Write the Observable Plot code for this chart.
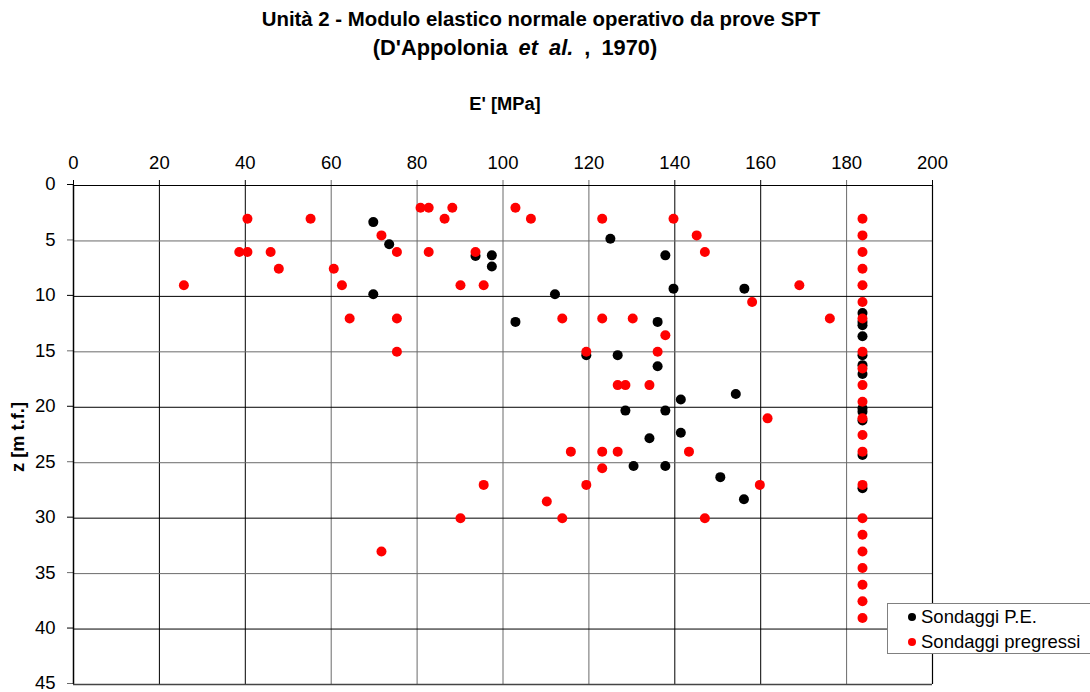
<!DOCTYPE html>
<html>
<head>
<meta charset="utf-8">
<script src="https://cdn.jsdelivr.net/npm/d3@7"></script>
<script src="https://cdn.jsdelivr.net/npm/@observablehq/plot@0.6"></script>
<style>
  html, body { margin: 0; padding: 0; background: #fff; }
  #wrap { position: relative; width: 1090px; height: 692px; font-family: "Liberation Sans", Arial, sans-serif; color: #000; }
  .t { position: absolute; text-align: center; font-weight: bold; white-space: nowrap; }
  #legend { position: absolute; left: 887px; top: 603px; width: 210px; height: 51px; border: 1px solid #808080; background: #fff; box-sizing: border-box; font-size: 18.5px; }
  .li { position: absolute; left: 0; display: flex; align-items: center; }
  .dot { display: inline-block; width: 8px; height: 8px; border-radius: 50%; margin-left: 20px; margin-right: 5px; }
</style>
</head>
<body>
<div id="wrap">
  <div id="chart"></div>
  <div class="t" style="left:241px;width:600px;top:8px;font-size:20.4px;">Unità 2 - Modulo elastico normale operativo da prove SPT</div>
  <div class="t" style="left:215px;width:600px;top:35px;font-size:21.8px;word-spacing:5px;">(D'Appolonia <i>et al.</i> , 1970)</div>
  <div class="t" style="left:405px;width:200px;top:93px;font-size:18.3px;">E' [MPa]</div>
  <div class="t" style="left:-82px;width:200px;top:426px;font-size:18.3px;transform:rotate(-90deg);">z [m t.f.]</div>
  <div id="legend">
    <div class="li" style="top:2px;"><span class="dot" style="background:#000"></span><span>Sondaggi P.E.</span></div>
    <div class="li" style="top:27px;"><span class="dot" style="background:#ff0000"></span><span>Sondaggi pregressi</span></div>
  </div>
</div>
<script>
// Sondaggi P.E. (black)
const peE = [69.8, 73.5, 125.0, 93.6, 97.4, 97.4, 137.8, 69.8, 112.1, 139.7, 156.2, 102.9, 136.0, 119.4, 126.7, 136.0, 154.2, 141.4, 128.5, 137.8, 141.4, 134.1, 130.4, 137.8, 150.6, 156.1,
             183.7, 183.7, 183.7, 183.7, 183.7, 183.7, 183.7, 183.7, 183.7, 183.7, 183.7, 183.7];
const peZ = [3.3, 5.3, 4.8, 6.35, 6.3, 7.3, 6.3, 9.8, 9.8, 9.3, 9.3, 12.3, 12.3, 15.3, 15.3, 16.3, 18.8, 19.3, 20.3, 20.3, 22.3, 22.8, 25.3, 25.3, 26.3, 28.3,
             11.5, 12.3, 12.6, 13.6, 15.3, 16.2, 17.0, 20.1, 20.4, 21.2, 24.3, 27.3];

// Sondaggi pregressi (red)
const prE = [40.5, 55.2, 38.6, 40.5, 45.9, 47.8, 60.6, 25.7, 62.5, 64.3,
             80.8, 82.7, 88.2, 86.4, 102.9, 106.5, 123.1, 71.7, 75.3, 82.7, 93.6, 90.1, 95.5, 75.3, 113.8, 123.1, 130.2, 75.3, 119.4,
             139.7, 145.1, 147.0, 169.0, 158.0, 176.1, 137.8, 136.0,
             126.7, 128.5, 134.1, 161.6, 143.3, 115.8, 123.1, 126.7, 123.1, 95.5, 119.4, 159.8, 110.2, 90.1, 113.8, 147.0, 71.7,
             183.7, 183.7, 183.7, 183.7, 183.7, 183.7, 183.7, 183.7, 183.7, 183.7, 183.7, 183.7, 183.7, 183.7, 183.7, 183.7, 183.7, 183.7, 183.7, 183.7, 183.7, 183.7];
const prZ = [3, 3, 6, 6, 6, 7.5, 7.5, 9, 9, 12,
             2, 2, 2, 3, 2, 3, 3, 4.5, 6, 6, 6, 9, 9, 12, 12, 12, 12, 15, 15,
             3, 4.5, 6, 9, 10.5, 12, 13.5, 15,
             18, 18, 18, 21, 24, 24, 24, 24, 25.5, 27, 27, 27, 28.5, 30, 30, 30, 33,
             3, 4.5, 6, 7.5, 9, 10.5, 12, 15, 16.5, 18, 19.5, 21, 22.5, 24, 27, 30, 31.5, 33, 34.5, 36, 37.5, 39];

const xTicks = [0, 20, 40, 60, 80, 100, 120, 140, 160, 180, 200];
const yTicks = [0, 5, 10, 15, 20, 25, 30, 35, 40, 45];

const pe = peE.map((e, i) => ({E: e, z: peZ[i]}));
const pr = prE.map((e, i) => ({E: e, z: prZ[i]}));

// grid line shade (mimics the reference's rendering)
const xShade = x => [60, 80, 100, 120, 180].includes(x) ? "#6a6a6a" : "#000";
const yShade = y => (y % 10 === 5) ? "#6a6a6a" : "#000";

const chart = Plot.plot({
  width: 1090,
  height: 692,
  marginTop: 185,
  marginLeft: 73,
  marginRight: 158,
  marginBottom: 8,
  style: {fontFamily: "'Liberation Sans', Arial, sans-serif", fontSize: "18.5px", color: "#000", background: "transparent", overflow: "visible"},
  x: {domain: [0, 200], label: null},
  y: {domain: [0, 45], reverse: true, label: null},
  marks: [
    Plot.axisX(xTicks, {anchor: "top", tickSize: 6, tickPadding: 11, stroke: xShade}),
    Plot.axisY(yTicks, {anchor: "left", tickSize: 6, tickPadding: 12, stroke: yShade, dy: -1}),
    Plot.ruleX(xTicks, {stroke: xShade, strokeWidth: 1}),
    Plot.ruleY(yTicks, {stroke: yShade, strokeWidth: 1}),
    Plot.ruleX([0], {stroke: "#000", strokeWidth: 1.5}),
    Plot.ruleX([200], {stroke: "#000", strokeWidth: 1.2}),
    Plot.ruleY([0], {stroke: "#000", strokeWidth: 1.2}),
    Plot.ruleY([45], {stroke: "#444", strokeWidth: 1.5}),
    Plot.dot(pe, {x: "E", y: "z", r: 5, fill: "#000", stroke: null}),
    Plot.dot(pr, {x: "E", y: "z", r: 5, fill: "#ff0000", stroke: null})
  ]
});
document.getElementById("chart").appendChild(chart);
</script>
</body>
</html>
